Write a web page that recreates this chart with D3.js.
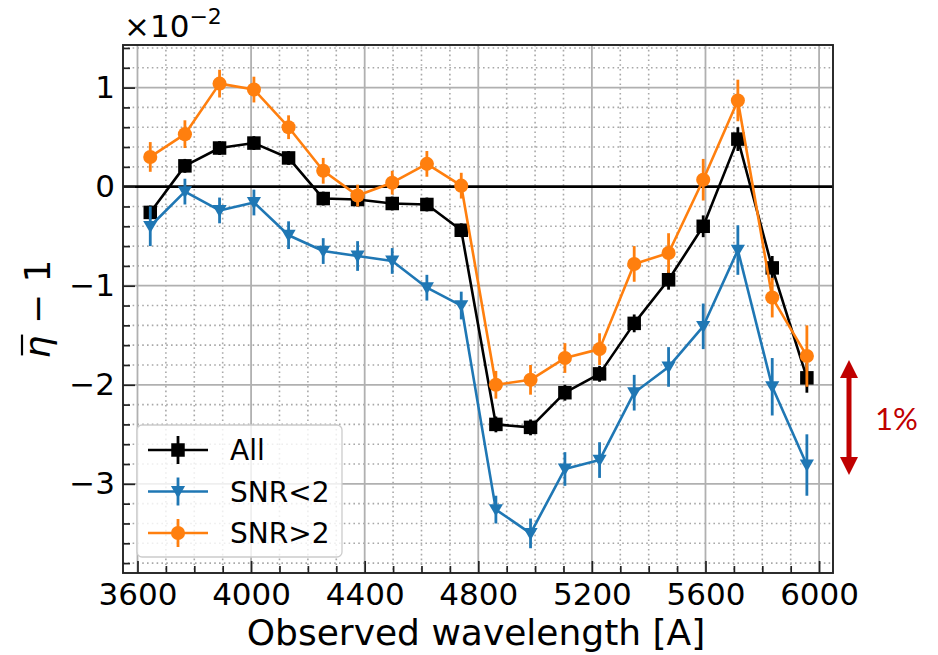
<!DOCTYPE html>
<html>
<head>
<meta charset="utf-8">
<script src="https://cdn.jsdelivr.net/npm/d3@7"></script>
<style>
  body { margin: 0; background: #fff; }
  svg { display: block; }
  text { font-family: "DejaVu Sans", sans-serif; }
</style>
</head>
<body>
<svg id="chart" width="938" height="655"></svg>
<script>
// Bin centres in Angstrom
const wavelength = [3645, 3767, 3889, 4010, 4132, 4254, 4375, 4497, 4619, 4740,
                    4862, 4984, 5105, 5227, 5349, 5470, 5592, 5714, 5835, 5957];

// Values of (eta_bar - 1) in units of 1e-2, with 1-sigma errors
const allValues = [-0.26, 0.21, 0.39, 0.44, 0.29, -0.12, -0.13, -0.17, -0.18, -0.44,
                   -2.40, -2.43, -2.08, -1.89, -1.38, -0.94, -0.40, 0.48, -0.82, -1.93];
const allErrors = [0.07, 0.07, 0.07, 0.07, 0.07, 0.07, 0.07, 0.07, 0.07, 0.07,
                   0.08, 0.08, 0.08, 0.08, 0.09, 0.10, 0.11, 0.12, 0.12, 0.15];

const lowSnrValues = [-0.40, -0.05, -0.24, -0.16, -0.49, -0.65, -0.70, -0.75, -1.02, -1.20,
                      -3.26, -3.50, -2.85, -2.76, -2.08, -1.82, -1.41, -0.64, -2.02, -2.81];
const lowSnrErrors = [0.20, 0.13, 0.13, 0.13, 0.14, 0.13, 0.15, 0.13, 0.13, 0.14,
                      0.14, 0.15, 0.17, 0.18, 0.18, 0.20, 0.23, 0.25, 0.29, 0.31];

const highSnrValues = [0.30, 0.53, 1.04, 0.98, 0.60, 0.16, -0.09, 0.04, 0.23, 0.01,
                       -2.00, -1.95, -1.73, -1.64, -0.78, -0.67, 0.07, 0.87, -1.12, -1.71];
const highSnrErrors = [0.15, 0.14, 0.14, 0.13, 0.12, 0.13, 0.11, 0.12, 0.13, 0.13,
                       0.14, 0.15, 0.15, 0.16, 0.18, 0.20, 0.21, 0.21, 0.20, 0.31];

const seriesNames = ["All", "SNR<2", "SNR>2"];
const seriesColors = ["#000000", "#1f77b4", "#ff7f0e"];
const seriesMarkers = ["square", "triangleDown", "circle"];

const xTickValues = [3600, 4000, 4400, 4800, 5200, 5600, 6000];
const yTickValues = [-3, -2, -1, 0, 1];

const series = [
  { name: seriesNames[0], values: allValues, errors: allErrors, color: seriesColors[0], marker: seriesMarkers[0] },
  { name: seriesNames[1], values: lowSnrValues, errors: lowSnrErrors, color: seriesColors[1], marker: seriesMarkers[1] },
  { name: seriesNames[2], values: highSnrValues, errors: highSnrErrors, color: seriesColors[2], marker: seriesMarkers[2] }
];

const svg = d3.select("#chart");
const frame = { left: 123, right: 833, top: 45, bottom: 573 };
const width = frame.right - frame.left;
const height = frame.bottom - frame.top;

const x = d3.scaleLinear().domain([3549, 6049]).range([frame.left, frame.right]);
const y = d3.scaleLinear().domain([-3.90, 1.43]).range([frame.bottom, frame.top]);

const xMinor = d3.range(3600, 6001, 100).filter(v => v % 400 !== 0);
const yMinor = d3.range(-19, 8).filter(i => i % 5 !== 0).map(i => i / 5);

const gridGray = "#b0b0b0";

// minor grid (dotted)
const grid = svg.append("g");
grid.selectAll(".vminor").data(xMinor).join("line")
  .attr("x1", d => x(d)).attr("x2", d => x(d))
  .attr("y1", frame.top).attr("y2", frame.bottom)
  .attr("stroke", "#a8a8a8").attr("stroke-width", 1.6).attr("stroke-dasharray", "1.6,3.2");
grid.selectAll(".hminor").data(yMinor).join("line")
  .attr("x1", frame.left).attr("x2", frame.right)
  .attr("y1", d => y(d)).attr("y2", d => y(d))
  .attr("stroke", "#a8a8a8").attr("stroke-width", 1.6).attr("stroke-dasharray", "1.6,3.2");

// major grid (solid)
grid.selectAll(".vmajor").data(xTickValues).join("line")
  .attr("x1", d => x(d)).attr("x2", d => x(d))
  .attr("y1", frame.top).attr("y2", frame.bottom)
  .attr("stroke", gridGray).attr("stroke-width", 1.8);
grid.selectAll(".hmajor").data(yTickValues.filter(v => v !== 0)).join("line")
  .attr("x1", frame.left).attr("x2", frame.right)
  .attr("y1", d => y(d)).attr("y2", d => y(d))
  .attr("stroke", gridGray).attr("stroke-width", 1.8);

// zero reference line
svg.append("line")
  .attr("x1", frame.left).attr("x2", frame.right)
  .attr("y1", y(0)).attr("y2", y(0))
  .attr("stroke", "#000").attr("stroke-width", 2.6);

// marker shapes
const markerSize = 13.5;
function markerPath(type) {
  const s = markerSize / 2;
  if (type === "square") return `M${-s},${-s}H${s}V${s}H${-s}Z`;
  if (type === "triangleDown") return `M${-s * 1.05},${-s * 0.8}H${s * 1.05}L0,${s * 1.0}Z`;
  return d3.symbol(d3.symbolCircle, Math.PI * (s + 0.3) * (s + 0.3))();
}

const line = d3.line().x(d => x(d.w)).y(d => y(d.v));

series.forEach(s => {
  const pts = wavelength.map((w, i) => ({ w, v: s.values[i], e: s.errors[i] }));
  const g = svg.append("g");
  g.append("path").datum(pts).attr("d", line)
    .attr("fill", "none").attr("stroke", s.color).attr("stroke-width", 2.6)
    .attr("stroke-linejoin", "round");
  g.selectAll(".err").data(pts).join("line")
    .attr("x1", d => x(d.w)).attr("x2", d => x(d.w))
    .attr("y1", d => y(d.v - d.e)).attr("y2", d => y(d.v + d.e))
    .attr("stroke", s.color).attr("stroke-width", 2.8);
  g.selectAll(".mk").data(pts).join("path")
    .attr("d", markerPath(s.marker))
    .attr("transform", d => `translate(${x(d.w)},${y(d.v)})`)
    .attr("fill", s.color);
});

// axes with inward ticks
const tickColor = "#222";
const xAxisMajor = d3.axisBottom(x).tickValues(xTickValues).tickSize(-12).tickPadding(10).tickFormat(d3.format("d"));
const xAxisMinor = d3.axisBottom(x).tickValues(xMinor).tickSize(-7).tickFormat("");
const yAxisMajor = d3.axisLeft(y).tickValues(yTickValues).tickSize(-12).tickPadding(8)
  .tickFormat(d => d < 0 ? "\u2212" + Math.abs(d) : String(d));
const yAxisMinor = d3.axisLeft(y).tickValues(yMinor).tickSize(-7).tickFormat("");

function styleAxis(g) {
  g.select(".domain").remove();
  g.selectAll(".tick line").attr("stroke", tickColor).attr("stroke-width", 1.7);
  g.selectAll(".tick text").attr("fill", "#000").style("font-family", "DejaVu Sans").style("font-size", "31px");
}

svg.append("g").attr("transform", `translate(0,${frame.bottom})`).call(xAxisMinor).call(styleAxis);
svg.append("g").attr("transform", `translate(0,${frame.bottom})`).call(xAxisMajor).call(styleAxis);
svg.append("g").attr("transform", `translate(${frame.left},0)`).call(yAxisMinor).call(styleAxis);
svg.append("g").attr("transform", `translate(${frame.left},0)`).call(yAxisMajor).call(styleAxis);

// frame
svg.append("rect")
  .attr("x", frame.left).attr("y", frame.top)
  .attr("width", width).attr("height", height)
  .attr("fill", "none").attr("stroke", "#222").attr("stroke-width", 1.9);

// axis labels
svg.append("text")
  .attr("x", (frame.left + frame.right) / 2 - 2).attr("y", 645)
  .attr("text-anchor", "middle").style("font-size", "36px")
  .text("Observed wavelength [A]");

const yLabelGroup = svg.append("g")
  .attr("transform", `translate(50,${(frame.top + frame.bottom) / 2}) rotate(-90)`);
const yLabel = yLabelGroup.append("text").style("font-size", "36px");
yLabel.append("tspan").style("font-style", "italic").text("\u03B7");
yLabel.append("tspan").text(" \u2212 1");
const yLabelWidth = yLabel.node().getComputedTextLength();
yLabel.attr("x", -yLabelWidth / 2);
const etaBox = yLabel.node().getExtentOfChar(0);
yLabelGroup.append("line")
  .attr("x1", etaBox.x + 3).attr("x2", etaBox.x + etaBox.width + 1)
  .attr("y1", -28).attr("y2", -28)
  .attr("stroke", "#000").attr("stroke-width", 2.2);

// exponent offset
const offset = svg.append("text").attr("x", 124).attr("y", 37).style("font-size", "31px");
offset.append("tspan").text("\u00D710");
offset.append("tspan").attr("dy", -13).style("font-size", "22px").text("\u22122");

// legend
const legend = svg.append("g");
legend.append("rect")
  .attr("x", 137).attr("y", 425).attr("width", 205).attr("height", 132).attr("rx", 5)
  .attr("fill", "#fff").attr("fill-opacity", 0.8)
  .attr("stroke", "#cccccc").attr("stroke-width", 1.3);
series.forEach((s, i) => {
  const ly = 450 + i * 41.5;
  const row = legend.append("g").attr("transform", `translate(0,${ly})`);
  row.append("line").attr("x1", 148).attr("x2", 208).attr("y1", 0).attr("y2", 0)
    .attr("stroke", s.color).attr("stroke-width", 2.6);
  row.append("line").attr("x1", 178).attr("x2", 178).attr("y1", -14).attr("y2", 14)
    .attr("stroke", s.color).attr("stroke-width", 2.8);
  row.append("path").attr("d", markerPath(s.marker)).attr("transform", "translate(178,0)").attr("fill", s.color);
  row.append("text").attr("x", 230).attr("y", 0).attr("dy", "0.36em")
    .style("font-size", "28px").text(s.name);
});

// 1% scale bar
const barColor = "#c00000";
const barX = 849;
const barTop = y(-1.75), barBottom = y(-2.91);
const head = 18, headHalf = 9;
svg.append("line").attr("x1", barX).attr("x2", barX)
  .attr("y1", barTop + head - 2).attr("y2", barBottom - head + 2)
  .attr("stroke", barColor).attr("stroke-width", 5);
svg.append("path").attr("d", `M${barX},${barTop}L${barX + headHalf},${barTop + head}H${barX - headHalf}Z`).attr("fill", barColor);
svg.append("path").attr("d", `M${barX},${barBottom}L${barX + headHalf},${barBottom - head}H${barX - headHalf}Z`).attr("fill", barColor);
svg.append("text").attr("x", 875).attr("y", 430)
  .style("font-family", "Lato, 'Open Sans', sans-serif").style("font-size", "31px")
  .attr("fill", barColor).text("1%");
</script>
</body>
</html>
